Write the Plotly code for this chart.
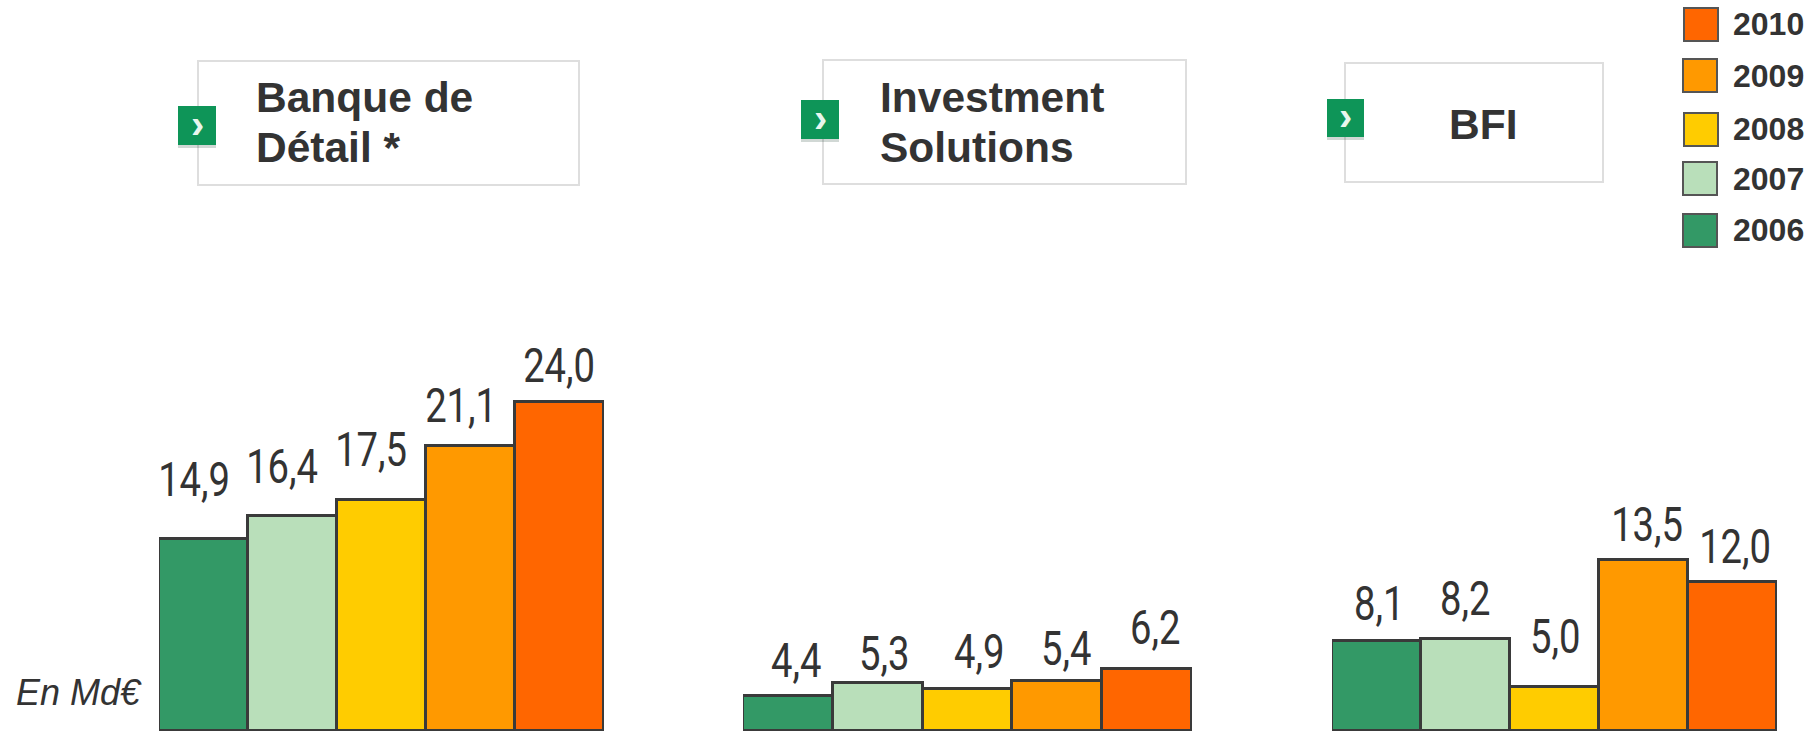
import plotly.graph_objects as go

WIDTH, HEIGHT = 1818, 731

# Net banking income by business line, in Md€
years = ["2006", "2007", "2008", "2009", "2010"]
banque_de_detail = [14.9, 16.4, 17.5, 21.1, 24.0]
investment_solutions = [4.4, 5.3, 4.9, 5.4, 6.2]
bfi = [8.1, 8.2, 5.0, 13.5, 12.0]
panel_titles = [["Banque de", "Détail *"], ["Investment", "Solutions"], ["BFI"]]
unit_label = "En Md€"

# Palette
year_colors = ["#339966", "#B9DFBA", "#FFCC00", "#FF9900", "#FF6600"]
INK = "#333333"
BAR_EDGE = "#3A3A3A"
BOX_EDGE = "#DEDEDE"
BUTTON = "#0E9558"

# The value axis starts above zero, so all panels share one truncated scale
AXIS_FLOOR = 2.2
PX_PER_UNIT = 15.0
BASELINE_PX = 729


def px(x):
    return x / WIDTH


def py(y):
    return 1 - y / HEIGHT


panel_spans = [(159, 604), (743, 1192), (1332, 1777)]
panel_values = [banque_de_detail, investment_solutions, bfi]
axis_ids = ["x", "x2", "x3"]
label_dx = [
    [-10, -11, -11, -10, -1],
    [9, 7, 12, 9, 8],
    [3, 0, 1, 3, 2],
]
label_dy = [
    [37, 27, 28, 18, 14],
    [13, 7, 15, 10, 19],
    [15, 18, 28, 13, 13],
]

fig = go.Figure()

for values, axis in zip(panel_values, axis_ids):
    fig.add_trace(go.Bar(
        x=years, y=values, xaxis=axis, yaxis="y", width=1,
        marker=dict(color=year_colors, line=dict(color=BAR_EDGE, width=3)),
        hoverinfo="skip", showlegend=False,
    ))

layout_axes = {}
for i, (span, axis) in enumerate(zip(panel_spans, axis_ids)):
    key = "xaxis" if i == 0 else f"xaxis{i + 1}"
    layout_axes[key] = dict(
        domain=[px(span[0]), px(span[1])], type="category",
        categoryorder="array", categoryarray=years, range=[-0.5, 4.5],
        anchor="y", showgrid=False, showticklabels=False, ticks="",
        showline=True, linecolor=BAR_EDGE, linewidth=3, zeroline=False,
        fixedrange=True,
    )

annotations = []

# Value labels written with a decimal comma
for values, axis, dxs, dys in zip(panel_values, axis_ids, label_dx, label_dy):
    for idx, (v, dx, dy) in enumerate(zip(values, dxs, dys)):
        annotations.append(dict(
            x=idx, y=v, xref=axis, yref="y", text=f"{v:.1f}".replace(".", ","),
            showarrow=False, xanchor="center", yanchor="bottom",
            xshift=dx, yshift=dy - 8,
            font=dict(family="Roboto", size=49, color=INK),
        ))

annotations.append(dict(
    x=px(14), y=py(715), xref="paper", yref="paper", text=f"<i>{unit_label}</i>",
    showarrow=False, xanchor="left", yanchor="bottom",
    font=dict(family="Liberation Sans", size=36, color=INK),
))

shapes = []

# Panel header boxes with their green arrow buttons
header_boxes = [(198, 61, 579, 185), (823, 60, 1186, 184), (1345, 63, 1603, 182)]
header_buttons = [(178, 106, 216, 145), (801, 100, 839, 139), (1327, 99, 1364, 137)]
title_anchors = [(254, "left"), (878, "left"), (1483, "center")]
title_line_centers = [[98, 148], [98, 148], [124]]

for (x0, y0, x1, y1) in header_boxes:
    shapes.append(dict(type="rect", xref="paper", yref="paper",
                       x0=px(x0), x1=px(x1), y0=py(y0), y1=py(y1),
                       line=dict(color=BOX_EDGE, width=2), fillcolor="white",
                       layer="below"))

for (x0, y0, x1, y1) in header_buttons:
    shapes.append(dict(type="rect", xref="paper", yref="paper",
                       x0=px(x0), x1=px(x1), y0=py(y0 + 2), y1=py(y1 + 3),
                       line=dict(width=0), fillcolor="rgba(0,40,20,0.18)"))
    shapes.append(dict(type="rect", xref="paper", yref="paper",
                       x0=px(x0), x1=px(x1), y0=py(y0), y1=py(y1),
                       line=dict(width=0), fillcolor=BUTTON))
    annotations.append(dict(
        x=px((x0 + x1) / 2), y=py((y0 + y1) / 2 - 2), xref="paper", yref="paper",
        text="<b>›</b>", showarrow=False, xanchor="center", yanchor="middle",
        font=dict(family="Liberation Sans", size=40, color="#E8F6EE"),
    ))

for lines, (x, anchor), centers in zip(panel_titles, title_anchors, title_line_centers):
    for line, yc in zip(lines, centers):
        annotations.append(dict(
            x=px(x), y=py(yc), xref="paper", yref="paper", text=f"<b>{line}</b>",
            showarrow=False, xanchor=anchor, yanchor="middle",
            font=dict(family="Liberation Sans", size=42.5, color=INK),
        ))

# Year key in the top right corner, newest first
key_years = list(reversed(years))
key_colors = list(reversed(year_colors))
key_swatches = [(1684, 8), (1683, 59), (1684, 113), (1683, 162), (1683, 214)]
key_text_centers = [24, 76, 129, 179, 230]

for year, color, (x0, y0), yc in zip(key_years, key_colors, key_swatches, key_text_centers):
    shapes.append(dict(type="rect", xref="paper", yref="paper",
                       x0=px(x0), x1=px(x0 + 34), y0=py(y0), y1=py(y0 + 33),
                       line=dict(color="#555555", width=2), fillcolor=color))
    annotations.append(dict(
        x=px(1731), y=py(yc), xref="paper", yref="paper", text=f"<b>{year}</b>",
        showarrow=False, xanchor="left", yanchor="middle",
        font=dict(family="Liberation Sans", size=32, color=INK),
    ))

fig.update_layout(
    width=WIDTH, height=HEIGHT,
    margin=dict(l=0, r=0, t=0, b=0),
    paper_bgcolor="white", plot_bgcolor="white",
    barmode="overlay", bargap=0, showlegend=False,
    yaxis=dict(
        domain=[py(BASELINE_PX), 1],
        range=[AXIS_FLOOR, AXIS_FLOOR + BASELINE_PX / PX_PER_UNIT],
        showticklabels=False, showgrid=False, zeroline=False, ticks="",
        showline=False, fixedrange=True,
    ),
    annotations=annotations, shapes=shapes,
    **layout_axes,
)

# The value labels are set condensed: squeeze their glyphs horizontally
condense_labels = """
document.querySelectorAll('.annotation text').forEach(function (t) {
    if (/^\\d+,\\d$/.test(t.textContent)) {
        t.setAttribute('textLength', t.getComputedTextLength() * 0.78);
        t.setAttribute('lengthAdjust', 'spacingAndGlyphs');
    }
});
"""

fig.write_html("out.html", config=dict(displayModeBar=False), post_script=condense_labels)
